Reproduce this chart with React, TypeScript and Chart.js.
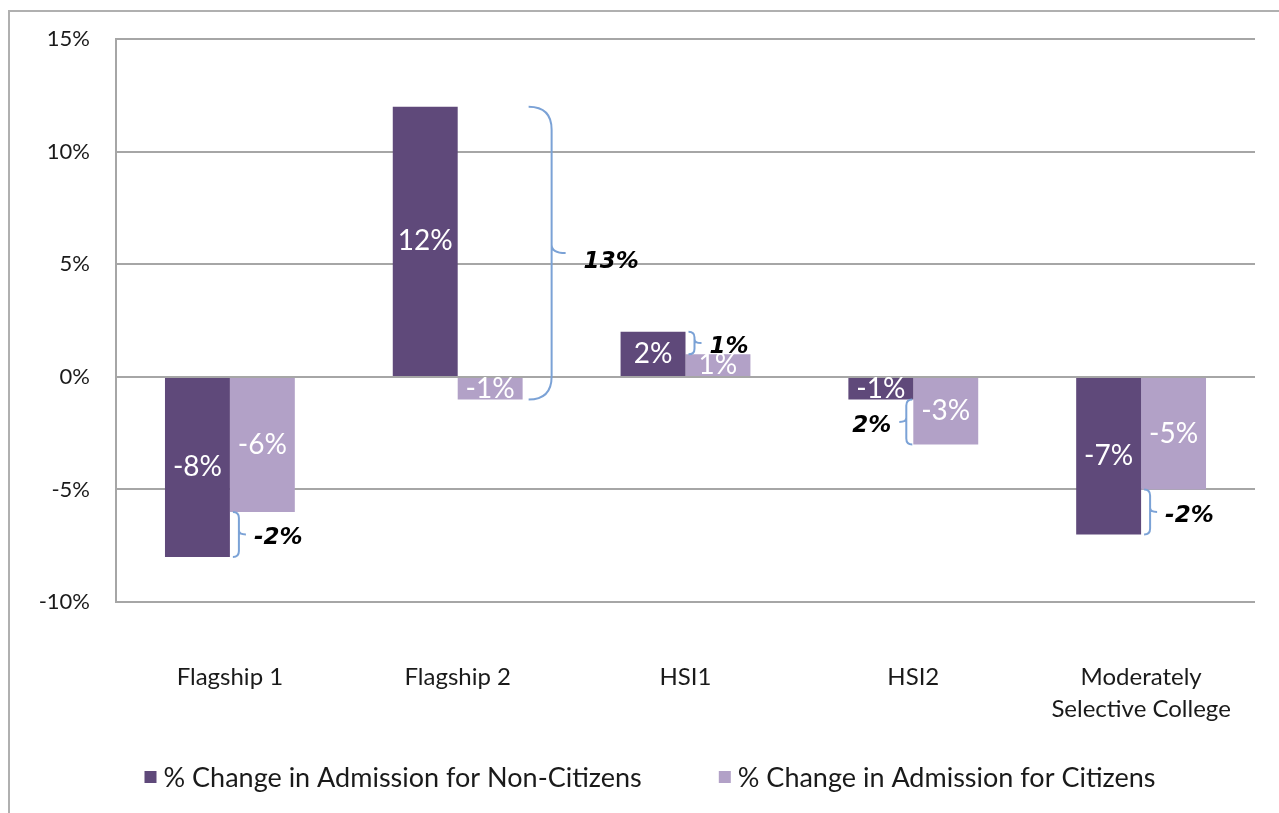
import React, { useEffect, useRef } from "react";
import { Chart, registerables } from "chart.js";

Chart.register(...registerables);

const categories: string[][] = [["Flagship 1"], ["Flagship 2"], ["HSI1"], ["HSI2"], ["Moderately", "Selective College"]];
const nonCitizens = [-8, 12, 2, -1, -7];
const citizens = [-6, -1, 1, -3, -5];
const seriesNames = ["% Change in Admission for Non-Citizens", "% Change in Admission for Citizens"];
const yMin = -10;
const yMax = 15;
const yStep = 5;
const gapLabels = ["-2%", "13%", "1%", "2%", "-2%"];
// which bar edge each brace hugs: dark bar's right edge, light bar's right edge or light bar's left edge
const gapAnchors = ["darkRight", "lightRight", "darkRight", "lightLeft", "darkRight"];

const DARK = "#5f497a";
const LIGHT = "#b2a1c7";
const BRACE = "#7ba2d6";
const GRID = "#a6a6a6";
const FONT = "Lato, 'Open Sans', sans-serif";
const BRACE_FONT = "'DejaVu Sans', Verdana, sans-serif";

const framePlugin = {
  id: "frame",
  beforeDraw(chart: any) {
    const ctx = chart.ctx;
    ctx.save();
    ctx.fillStyle = "#ffffff";
    ctx.fillRect(0, 0, chart.width, chart.height);
    ctx.strokeStyle = "#b0b0b0";
    ctx.lineWidth = 2;
    ctx.beginPath();
    ctx.moveTo(9, chart.height);
    ctx.lineTo(9, 11);
    ctx.lineTo(chart.width, 11);
    ctx.stroke();
    ctx.restore();
  },
};

const valueLabelPlugin = {
  id: "valueLabels",
  afterDatasetsDraw(chart: any) {
    const ctx = chart.ctx;
    ctx.save();
    ctx.fillStyle = "#ffffff";
    ctx.font = `28px ${FONT}`;
    ctx.textAlign = "center";
    ctx.textBaseline = "middle";
    chart.data.datasets.forEach((ds: any, di: number) => {
      const meta = chart.getDatasetMeta(di);
      meta.data.forEach((el: any, i: number) => {
        const p = el.getProps(["x", "y", "base"], true);
        ctx.fillText(`${ds.data[i]}%`, p.x, (p.y + p.base) / 2);
      });
    });
    ctx.restore();
  },
};

const bracePlugin = {
  id: "braces",
  afterDatasetsDraw(chart: any) {
    const ctx = chart.ctx;
    const yScale = chart.scales.y;
    const darkMeta = chart.getDatasetMeta(0);
    const lightMeta = chart.getDatasetMeta(1);
    ctx.save();
    gapLabels.forEach((label, i) => {
      const dEl = darkMeta.data[i].getProps(["x", "width"], true);
      const lEl = lightMeta.data[i].getProps(["x", "width"], true);
      const anchor = gapAnchors[i];
      let x0: number;
      let dir = 1;
      if (anchor === "darkRight") x0 = dEl.x + dEl.width / 2 + 3;
      else if (anchor === "lightRight") x0 = lEl.x + lEl.width / 2 + 6;
      else {
        x0 = lEl.x - lEl.width / 2 - 1;
        dir = -1;
      }
      const yA = yScale.getPixelForValue(nonCitizens[i]);
      const yB = yScale.getPixelForValue(citizens[i]);
      const yT = Math.min(yA, yB);
      const yBot = Math.max(yA, yB);
      const h = yBot - yT;
      const yM = (yT + yBot) / 2;
      const w = Math.max(6, Math.min(23, h * 0.08));
      const t = w < 10 ? 7 : 14;
      const xv = x0 + dir * w;
      const xt = x0 + dir * (w + t);
      const r = Math.min(w, h / 4);
      const r2 = Math.min(t * 0.6, h / 4);
      ctx.strokeStyle = BRACE;
      ctx.lineWidth = 2;
      ctx.beginPath();
      ctx.moveTo(x0, yT);
      ctx.quadraticCurveTo(xv, yT, xv, yT + r);
      ctx.lineTo(xv, yM - r2);
      ctx.quadraticCurveTo(xv, yM, xt, yM);
      ctx.moveTo(xv, yM - r2);
      ctx.quadraticCurveTo(xv, yM, xv, yM + r2);
      ctx.lineTo(xv, yBot - r);
      ctx.quadraticCurveTo(xv, yBot, x0, yBot);
      ctx.stroke();

      ctx.fillStyle = "#000000";
      ctx.font = `italic bold 23px ${BRACE_FONT}`;
      ctx.textBaseline = "middle";
      const gap = w > 15 ? 18 : 8;
      const dy = w > 15 ? 9 : 4;
      if (dir > 0) {
        ctx.textAlign = "left";
        ctx.fillText(label, xt + gap, yM + dy);
      } else {
        ctx.textAlign = "right";
        ctx.fillText(label, xt - gap, yM + dy);
      }
    });
    ctx.restore();
  },
};

const legendPlugin = {
  id: "customLegend",
  afterDraw(chart: any) {
    const ctx = chart.ctx;
    ctx.save();
    ctx.font = `27px ${FONT}`;
    ctx.textBaseline = "middle";
    ctx.textAlign = "left";
    const box = 12;
    const boxGap = 7;
    const itemGap = 77;
    const colors = [DARK, LIGHT];
    const widths = seriesNames.map((n) => box + boxGap + ctx.measureText(n).width);
    const total = widths.reduce((a, b) => a + b, 0) + itemGap;
    let x = 650 - total / 2;
    const y = 777;
    seriesNames.forEach((n, i) => {
      ctx.fillStyle = colors[i];
      ctx.fillRect(x, y - box / 2, box, box);
      ctx.fillStyle = "#1a1a1a";
      ctx.fillText(n, x + box + boxGap, y + 1);
      x += widths[i] + itemGap;
    });
    ctx.restore();
  },
};

export default function App() {
  const canvasRef = useRef<HTMLCanvasElement | null>(null);

  useEffect(() => {
    if (!canvasRef.current) return;
    const chart = new Chart(canvasRef.current, {
      type: "bar",
      data: {
        labels: categories,
        datasets: [
          {
            label: seriesNames[0],
            data: nonCitizens,
            backgroundColor: DARK,
            borderWidth: 0,
            categoryPercentage: 0.57,
            barPercentage: 1,
          },
          {
            label: seriesNames[1],
            data: citizens,
            backgroundColor: LIGHT,
            borderWidth: 0,
            categoryPercentage: 0.57,
            barPercentage: 1,
          },
        ],
      },
      options: {
        animation: false,
        responsive: false,
        devicePixelRatio: 1,
        layout: { padding: { left: 0, top: 38, right: 24, bottom: 0 } },
        plugins: {
          legend: { display: false },
          tooltip: { enabled: false },
          title: { display: false },
        },
        scales: {
          x: {
            grid: { display: false, drawTicks: false },
            border: { display: false },
            ticks: {
              autoSkip: false,
              maxRotation: 0,
              minRotation: 0,
              padding: 59,
              color: "#1a1a1a",
              font: { family: FONT, size: 24, lineHeight: 32 / 24 },
            },
            afterFit: (scale: any) => {
              scale.height = 211;
              scale.paddingLeft = 0;
              scale.paddingRight = 0;
            },
          },
          y: {
            min: yMin,
            max: yMax,
            grid: { color: GRID, lineWidth: 2, drawTicks: false },
            border: { display: true, color: GRID, width: 2 },
            ticks: {
              stepSize: yStep,
              padding: 26,
              color: "#1a1a1a",
              font: { family: FONT, size: 22 },
              callback: (v: any) => `${v}%`,
            },
            afterFit: (scale: any) => {
              scale.width = 116;
            },
          },
        },
      },
      plugins: [framePlugin, valueLabelPlugin, bracePlugin, legendPlugin],
    });
    return () => chart.destroy();
  }, []);

  return (
    <div style={{ position: "absolute", left: 0, top: 0, width: 1279, height: 813, background: "#fff" }}>
      <canvas ref={canvasRef} width={1279} height={813} style={{ display: "block" }} />
    </div>
  );
}
